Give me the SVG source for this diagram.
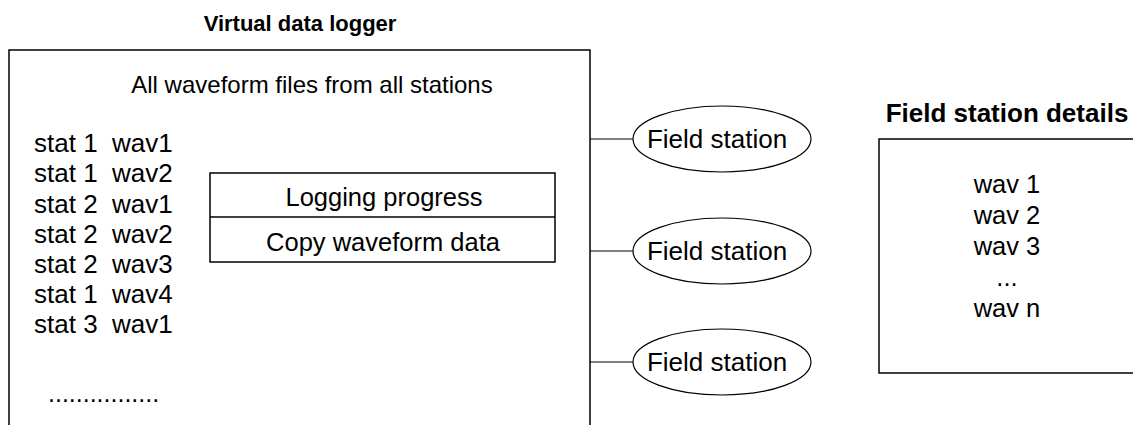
<svg xmlns="http://www.w3.org/2000/svg" width="1133" height="425" viewBox="0 0 1133 425">
<style>
text{font-family:"Liberation Sans",Arial,sans-serif;fill:#000;}
.t{font-size:25.5px;}
.s{font-size:26px;white-space:pre;}
.b{font-size:22px;font-weight:bold;}
.c{text-anchor:middle;}
.box{fill:none;stroke:#000;stroke-width:1.5;}
.conn{stroke:#000;stroke-width:1.2;fill:none;}
.ell{fill:#fff;stroke:#000;stroke-width:1.2;}
</style>
<rect width="1133" height="425" fill="#fff"/>
<g id="logger">
<text class="b c" x="300" y="31">Virtual data logger</text>
<path class="box" d="M9,430 V50 H590 V430"/>
<text class="c" style="font-size:24px" x="312" y="93">All waveform files from all stations</text>
<text class="s" x="34" y="152">stat 1  wav1</text>
<text class="s" x="34" y="182">stat 1  wav2</text>
<text class="s" x="34" y="212.5">stat 2  wav1</text>
<text class="s" x="34" y="242.5">stat 2  wav2</text>
<text class="s" x="34" y="273">stat 2  wav3</text>
<text class="s" x="34" y="303">stat 1  wav4</text>
<text class="s" x="34" y="333">stat 3  wav1</text>
<text style="font-size:25px" x="48" y="402">................</text>
</g>
<g id="progress">
<rect class="box" x="210" y="173" width="345" height="89"/>
<line class="box" x1="210" y1="217" x2="555" y2="217"/>
<text class="t c" x="384" y="206">Logging progress</text>
<text class="t c" x="383" y="251">Copy waveform data</text>
</g>
<g id="connectors">
<line class="conn" x1="590" y1="139" x2="633" y2="139"/>
<line class="conn" x1="590" y1="251" x2="633" y2="251"/>
<line class="conn" x1="590" y1="362" x2="633" y2="362"/>
</g>
<g id="station1">
<ellipse class="ell" cx="722" cy="139" rx="89" ry="33"/>
<text class="c" style="font-size:26px" x="717" y="148">Field station</text>
</g>
<g id="station2">
<ellipse class="ell" cx="722" cy="251" rx="89" ry="33"/>
<text class="c" style="font-size:26px" x="717" y="260">Field station</text>
</g>
<g id="station3">
<ellipse class="ell" cx="722" cy="362" rx="89" ry="33"/>
<text class="c" style="font-size:26px" x="717" y="371">Field station</text>
</g>
<g id="details">
<text class="c" style="font-size:26px;font-weight:bold" x="1007" y="122">Field station details</text>
<rect class="box" x="879" y="139" width="258" height="234"/>
<text class="t c" x="1007" y="193">wav 1</text>
<text class="t c" x="1007" y="224">wav 2</text>
<text class="t c" x="1007" y="255">wav 3</text>
<text class="t c" x="1007" y="286">...</text>
<text class="t c" x="1007" y="317">wav n</text>
</g>
</svg>
